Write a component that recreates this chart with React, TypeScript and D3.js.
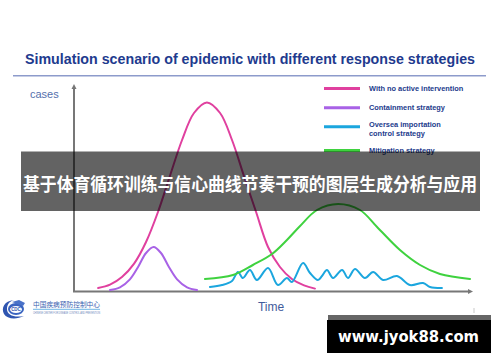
import React from "react";
import * as d3 from "d3";

// ---- Data (time in days 0..200, cases in arbitrary units 0..100) ----
const noIntervention: [number, number][] = [
  [12.1, 1.5], [18.1, 3.2], [24.1, 7], [30.2, 13.7], [36.2, 24.5], [42.2, 39.5],
  [48.2, 57.5], [54.3, 75.5], [60.3, 89], [66.8, 94.3], [73.4, 89], [79.4, 75.5],
  [85.4, 57.5], [91.5, 39.5], [97.5, 22], [103.5, 12], [109.5, 6], [115.6, 2.8], [121.1, 1.2],
];
const containment: [number, number][] = [
  [18.1, 0.5], [23.1, 1.8], [28.1, 5.8], [32.2, 12], [36.2, 19], [40, 22],
  [43.7, 19], [47.7, 12], [51.8, 5.8], [56.8, 1.8], [61.8, 0.5],
];
const importationControl: [number, number][] = [
  [68.3, 2], [74.4, 3], [79.4, 5], [82.4, 9.5], [84.9, 6.5], [88.4, 10.5], [91.9, 5.5],
  [97.5, 11.5], [102.5, 3], [107, 6.5], [109.5, 4.5], [115.1, 14], [118.6, 9], [122.6, 5.5],
  [124.6, 7.5], [127.1, 10.5], [130.2, 6.5], [134.7, 10.5], [137.7, 6.5], [141.2, 11],
  [146.2, 6.5], [150.3, 9.5], [155.3, 5.5], [162.3, 7.5], [168.8, 3], [175.4, 4],
  [178.9, 2], [184.9, 1.5],
];
const mitigation: [number, number][] = [
  [65.8, 6], [79.9, 8], [89.9, 13], [99.5, 18.5], [107, 25.5], [113.6, 32.5],
  [122.1, 40.5], [132.7, 43.5], [143.7, 40.5], [152.3, 32], [163.8, 20.5],
  [173.9, 13], [183.9, 8.5], [199, 6],
];

const seriesColors = ["#e0409f", "#a862e6", "#1ba6de", "#3fd23f"];
const legendLabels: string[][] = [
  ["With no active intervention"],
  ["Containment strategy"],
  ["Oversea importation", "control  strategy"],
  ["Mitigation strategy"],
];

const titleText = "Simulation scenario of epidemic with different response strategies";
const bannerText = "基于体育循环训练与信心曲线节奏干预的图层生成分析与应用";
const watermarkText = "www.jyok88.com";

export default function App() {
  const xScale = d3.scaleLinear().domain([0, 200]).range([74, 472]);
  const yScale = d3.scaleLinear().domain([0, 100]).range([291, 91]);
  const line = d3
    .line<[number, number]>()
    .x((d) => xScale(d[0]))
    .y((d) => yScale(d[1]))
    .curve(d3.curveCatmullRom.alpha(0.5));

  const series = [noIntervention, containment, importationControl, mitigation];
  const legendRowY = [88.5, 107.7, 126.7, 150.5];
  const legendTextY = [[91], [110.2], [126.8, 135.8], [152.8]];

  const x0 = xScale(0);
  const x1 = xScale(200);
  const yb = yScale(0);
  const yt = yScale(103);

  return (
    <svg
      width={500}
      height={362}
      style={{ position: "absolute", left: 0, top: 0, background: "#fff" }}
      fontFamily="'Liberation Sans', Arial, sans-serif"
    >
      <rect x={0} y={0} width={500} height={362} fill="#fff" />
      {/* Title */}
      <text x={25} y={64} fontSize={14.8} fontWeight="bold" fill="#213a8e" textLength={450} lengthAdjust="spacingAndGlyphs">
        {titleText}
      </text>
      <line x1={13} x2={486} y1={75.7} y2={75.7} stroke="#8d9bcb" strokeWidth={1.5} />

      {/* Axes */}
      <line x1={x0} x2={x0} y1={yb} y2={yt + 3} stroke="#777" strokeWidth={2} />
      <path d={`M${x0 - 2.5},${yt + 4} L${x0},${yt - 1} L${x0 + 2.5},${yt + 4} Z`} fill="#777" />
      <line x1={x0 - 1} x2={x1 - 3} y1={yb + 0.5} y2={yb + 0.5} stroke="#777" strokeWidth={2} />
      <path d={`M${x1 - 4},${yb - 2} L${x1 + 1},${yb + 0.5} L${x1 - 4},${yb + 3} Z`} fill="#777" />
      <text x={30} y={97.5} fontSize={11} fill="#5470ac">cases</text>
      <text x={271} y={311} fontSize={12} fill="#3f5c9c" textAnchor="middle">Time</text>

      {/* Curves */}
      {series.map((s, i) => (
        <path key={i} d={line(s) || ""} fill="none" stroke={seriesColors[i]} strokeWidth={2} strokeLinejoin="round" strokeLinecap="round" />
      ))}

      {/* Legend */}
      {legendLabels.map((lab, i) => (
        <g key={i}>
          <line x1={324} x2={360} y1={legendRowY[i]} y2={legendRowY[i]} stroke={seriesColors[i]} strokeWidth={3} />
          {lab.map((t, j) => (
            <text key={j} x={369} y={legendTextY[i][j]} fontSize={7.4} fontWeight="bold" fill="#233b8c">
              {t}
            </text>
          ))}
        </g>
      ))}

      {/* Logo */}
      <g>
        <path d="M14,300 C4,301 1,308 4,314 C7,319 16,320 24,316 C14,318 7,315 7,309 C7,304 10,301 14,300 Z" fill="#2f55b0" />
        <ellipse cx={16} cy={309} rx={8} ry={6} fill="#3b64c0" />
        <ellipse cx={16} cy={309.5} rx={6} ry={3.5} fill="#fff" />
        <text x={16} y={311} fontSize={4.5} fontWeight="bold" fill="#2f55b0" textAnchor="middle">CDC</text>
        <path d="M12,302 L19,300 L25,303 L23,306 Z" fill="#4a72c8" />
        <text x={33} y={307} fontSize={6.6} fill="#3a5fb0" textLength={67} lengthAdjust="spacingAndGlyphs" fontFamily="'Noto Sans CJK SC', sans-serif">中国疾病预防控制中心</text>
        <line x1={33} x2={100} y1={309.3} y2={309.3} stroke="#6fb4e4" strokeWidth={1} />
        <text x={33} y={313.5} fontSize={2.6} fill="#6b7fb8" textLength={67} lengthAdjust="spacingAndGlyphs">CHINESE CENTER FOR DISEASE CONTROL AND PREVENTION</text>
      </g>
      <line x1={474} x2={474} y1={308} y2={313} stroke="#bbb" strokeWidth={0.8} />

      {/* Banner overlay */}
      <rect x={21} y={151.5} width={459} height={59.5} fill="#000" fillOpacity={0.61} />
      <text x={23} y={191} fontSize={18} fontWeight="bold" fill="#fff" textLength={454} lengthAdjust="spacingAndGlyphs" fontFamily="'Noto Sans CJK SC', sans-serif">
        {bannerText}
      </text>

      {/* Watermark */}
      <rect x={328} y={315} width={163} height={6} fill="#666" />
      <rect x={327} y={320} width={164} height={33} fill="#000" />
      <text x={338} y={342} fontSize={15.5} fontWeight="bold" fill="#fff" textLength={141} lengthAdjust="spacingAndGlyphs" fontFamily="'DejaVu Sans', sans-serif">
        {watermarkText}
      </text>
    </svg>
  );
}
